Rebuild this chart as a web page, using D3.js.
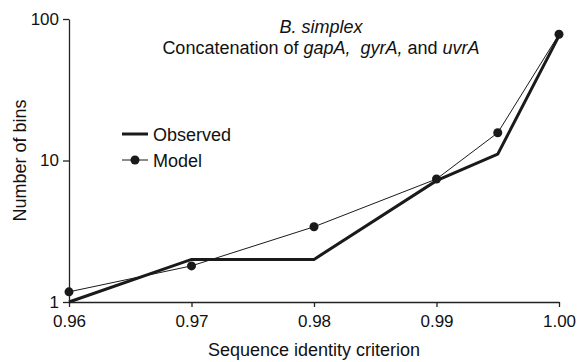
<!DOCTYPE html>
<html>
<head>
<meta charset="utf-8">
<script src="https://cdn.jsdelivr.net/npm/d3@7/dist/d3.min.js"></script>
<style>
  body { margin: 0; background: #fff; }
  svg { font-family: "Liberation Sans", Arial, sans-serif; }
  .axis path, .axis line { stroke: #222; stroke-width: 1.3; }
  .axis text { font-size: 17px; fill: #111; }
</style>
</head>
<body>
<svg id="chart" width="579" height="362"></svg>
<script>
// identity criterion values on the x axis
const criteria = [0.96, 0.97, 0.98, 0.99, 0.995, 1.00];
const observed = [1, 2, 2, 7.2, 11.1, 76];
const model = [1.18, 1.8, 3.4, 7.4, 15.7, 78];
const xTicks = [0.96, 0.97, 0.98, 0.99, 1.00];
const yTicks = [1, 10, 100];

const svg = d3.select("#chart");
const width = 579, height = 362;
let margin = { top: 19, bottom: 60, left: 69, right: 20 };
let bodyWidth = width - margin.left - margin.right;
let bodyHeight = height - margin.top - margin.bottom;

let xScale = d3.scaleLinear().domain([0.96, 1.00]).range([0, bodyWidth]);
let yScale = d3.scaleLog().domain([1, 100]).range([bodyHeight, 0]);

let body = svg.append("g")
    .attr("transform", `translate(${margin.left},${margin.top})`);

body.append("g")
    .attr("class", "axis")
    .attr("transform", `translate(0,${bodyHeight})`)
    .call(d3.axisBottom(xScale).tickValues(xTicks).tickFormat(d3.format(".2f")).tickSize(5).tickSizeOuter(0))
    .call(g => g.selectAll("text").attr("dy", "1.0em"));

body.append("g")
    .attr("class", "axis")
    .call(d3.axisLeft(yScale).tickValues(yTicks).tickFormat(d3.format("d")).tickSize(6).tickSizeOuter(0))
    .call(g => g.selectAll("text").attr("x", -10));

let pts = criteria.map((c, i) => ({ x: c, obs: observed[i], mod: model[i] }));

// observed: heavy line
body.append("path")
    .datum(pts)
    .attr("fill", "none")
    .attr("stroke", "#1a1a1a")
    .attr("stroke-width", 3)
    .attr("stroke-linejoin", "miter")
    .attr("d", d3.line().x(d => xScale(d.x)).y(d => yScale(d.obs)));

// model: thin line with dots
body.append("path")
    .datum(pts)
    .attr("fill", "none")
    .attr("stroke", "#1a1a1a")
    .attr("stroke-width", 1)
    .attr("d", d3.line().x(d => xScale(d.x)).y(d => yScale(d.mod)));

body.selectAll("circle.mod")
    .data(pts)
    .enter().append("circle")
    .attr("class", "mod")
    .attr("cx", d => xScale(d.x))
    .attr("cy", d => yScale(d.mod))
    .attr("r", 4.5)
    .attr("fill", "#1a1a1a");

// titles
let title = svg.append("text")
    .attr("x", 321)
    .attr("text-anchor", "middle")
    .style("font-size", "18px")
    .attr("fill", "#111");
title.append("tspan").attr("x", 321).attr("y", 33).style("font-style", "italic").text("B. simplex");
let t2 = title.append("tspan").attr("x", 321).attr("y", 54);
t2.append("tspan").text("Concatenation of ");
t2.append("tspan").style("font-style", "italic").text("gapA,\u00a0 gyrA,");
t2.append("tspan").text(" and ");
t2.append("tspan").style("font-style", "italic").text("uvrA");

svg.append("text")
    .attr("x", margin.left + bodyWidth / 2)
    .attr("y", 356)
    .attr("text-anchor", "middle")
    .style("font-size", "18px")
    .attr("fill", "#111")
    .text("Sequence identity criterion");

svg.append("text")
    .attr("transform", `translate(26,${margin.top + bodyHeight / 2}) rotate(-90)`)
    .attr("text-anchor", "middle")
    .style("font-size", "18px")
    .attr("fill", "#111")
    .text("Number of bins");

// legend
let legend = svg.append("g").attr("transform", "translate(122,134)");
legend.append("line").attr("x1", 0).attr("x2", 26).attr("y1", 0).attr("y2", 0)
    .attr("stroke", "#1a1a1a").attr("stroke-width", 3);
legend.append("text").attr("x", 31).attr("y", 6.5).style("font-size", "18px").attr("fill", "#111").text("Observed");
legend.append("line").attr("x1", 0).attr("x2", 26).attr("y1", 26).attr("y2", 26)
    .attr("stroke", "#1a1a1a").attr("stroke-width", 1);
legend.append("circle").attr("cx", 13).attr("cy", 26).attr("r", 4.5).attr("fill", "#1a1a1a");
legend.append("text").attr("x", 31).attr("y", 32.5).style("font-size", "18px").attr("fill", "#111").text("Model");
</script>
</body>
</html>
